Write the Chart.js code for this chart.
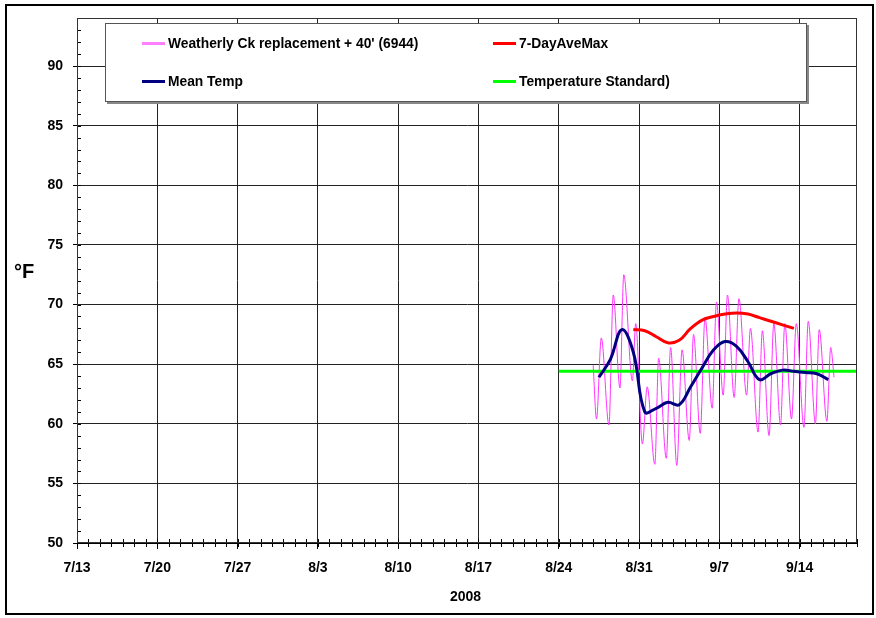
<!DOCTYPE html>
<html>
<head>
<meta charset="utf-8">
<script src="https://cdn.jsdelivr.net/npm/chart.js@4.4.0/dist/chart.umd.min.js"></script>
<style>
  html, body { margin: 0; padding: 0; background: #fff; }
  #wrap { position: relative; width: 876px; height: 618px; font-family: "Liberation Sans", Arial, sans-serif; color: #000; }
  #chart { position: absolute; left: 0; top: 0; }
  #frame { position: absolute; left: 5px; top: 4px; width: 865px; height: 607px; border: 2px solid #000; pointer-events: none; }
  .legend { position: absolute; left: 105px; top: 23px; width: 700px; height: 77px; background: #fff; border: 1px solid #555; box-shadow: 2px 2px 0 #888; }
  .item { position: absolute; font-weight: bold; font-size: 13.8px; line-height: 16px; white-space: nowrap; }
  .swatch { display: inline-block; width: 23px; height: 3px; vertical-align: middle; margin-right: 3px; position: relative; top: -1px; }
  .axis-label { position: absolute; font-weight: bold; }
</style>
</head>
<body>
<div id="wrap">
  <canvas id="chart" width="876" height="618"></canvas>
  <div id="frame"></div>
  <div class="legend">
    <div class="item" style="left:36px; top:12px;"><span class="swatch" style="background:#ff80ff"></span>Weatherly Ck replacement + 40' (6944)</div>
    <div class="item" style="left:36px; top:50px;"><span class="swatch" style="background:#000080"></span>Mean Temp</div>
    <div class="item" style="left:387px; top:12px;"><span class="swatch" style="background:#ff0000"></span>7-DayAveMax</div>
    <div class="item" style="left:387px; top:50px;"><span class="swatch" style="background:#00ff00"></span>Temperature Standard)</div>
  </div>
  <div class="axis-label" style="left:14px; top:260px; font-size:20px;">°F</div>
  <div class="axis-label" style="left:450px; top:588px; font-size:14px;">2008</div>
</div>
<script>
// x values are "month/day hour:min" in 2008; axis runs 7/13 .. 9/19
const axisStart = "7/13";
const axisEnd = "9/19";
const xTickLabels = ["7/13", "7/20", "7/27", "8/3", "8/10", "8/17", "8/24", "8/31", "9/7", "9/14"];
const yTickValues = [50, 55, 60, 65, 70, 75, 80, 85, 90];
const yMin = 50;
const yMax = 94;

// hourly logger, read at each daily low / high
const weatherlyTimes = [
  "8/27 00:00", "8/27 07:00", "8/27 17:00", "8/28 09:00", "8/28 18:00",
  "8/29 08:00", "8/29 16:00", "8/30 10:00", "8/30 17:00", "8/31 07:00",
  "8/31 17:00", "9/1 09:00", "9/1 17:00", "9/2 09:00", "9/2 18:00",
  "9/3 07:00", "9/3 18:00", "9/4 09:00", "9/4 18:00", "9/5 08:00",
  "9/5 18:00", "9/6 09:00", "9/6 18:00", "9/7 08:00", "9/7 17:00",
  "9/8 07:00", "9/8 17:00", "9/9 09:00", "9/9 17:00", "9/10 09:00",
  "9/10 18:00", "9/11 08:00", "9/11 18:00", "9/12 08:00", "9/12 17:00",
  "9/13 07:00", "9/13 17:00", "9/14 09:00", "9/14 18:00", "9/15 09:00",
  "9/15 17:00", "9/16 09:00", "9/16 17:00", "9/17 00:00"
];
const weatherlyTemps = [
  64.9, 60.4, 67.2, 59.9, 70.8,
  63.0, 72.5, 63.6, 68.4, 58.3,
  63.1, 56.6, 65.5, 57.1, 66.4,
  56.5, 66.2, 58.6, 67.5, 59.2,
  68.9, 61.3, 70.2, 62.4, 70.8,
  62.2, 70.5, 62.4, 68.0, 59.3,
  67.8, 59.0, 68.4, 59.9, 68.4,
  60.4, 68.4, 59.7, 68.6, 60.0,
  67.9, 60.2, 66.4, 63.9
];

const meanDays = [
  "8/27 12:00", "8/28 12:00", "8/29 12:00", "8/30 12:00", "8/31 12:00",
  "9/1 12:00", "9/2 12:00", "9/3 12:00", "9/4 12:00", "9/5 12:00",
  "9/6 12:00", "9/7 12:00", "9/8 12:00", "9/9 12:00", "9/10 12:00",
  "9/11 12:00", "9/12 12:00", "9/13 12:00", "9/14 12:00", "9/15 12:00",
  "9/16 12:00"
];
const meanTemps = [
  63.9, 65.4, 67.9, 66.0, 61.0,
  61.3, 61.8, 61.6, 63.1, 64.7,
  66.2, 66.9, 66.5, 65.2, 63.7,
  64.2, 64.5, 64.4, 64.3, 64.2,
  63.7
];

const aveMaxDays = [
  "8/30 12:00", "8/31 12:00", "9/1 12:00", "9/2 12:00", "9/3 12:00",
  "9/4 12:00", "9/5 12:00", "9/6 12:00", "9/7 12:00", "9/8 12:00",
  "9/9 12:00", "9/10 12:00", "9/11 12:00", "9/12 12:00", "9/13 12:00"
];
const aveMaxTemps = [
  67.9, 67.8, 67.3, 66.8, 67.0,
  68.0, 68.7, 69.0, 69.2, 69.3,
  69.2, 68.9, 68.6, 68.3, 68.0
];

const standardDays = ["8/24 00:00", "9/19 00:00"];
const standardTemps = [64.4, 64.4];

// days since 7/13/2008
function toDay(label) {
  const [md, hm] = label.split(" ");
  const [m, d] = md.split("/").map(Number);
  const h = hm ? Number(hm.split(":")[0]) : 0;
  return (Date.UTC(2008, m - 1, d, h) - Date.UTC(2008, 6, 13)) / 86400000;
}

function dayLabel(v) {
  const dt = new Date(Date.UTC(2008, 6, 13) + v * 86400000);
  return (dt.getUTCMonth() + 1) + "/" + dt.getUTCDate();
}

function toPoints(times, values) {
  return times.map((t, i) => ({ x: toDay(t), y: values[i] }));
}

const tickFont = { family: "'Liberation Sans', Arial, sans-serif", size: 14, weight: "bold" };

const minorTicks = {
  id: "minorTicks",
  afterDraw(chart) {
    const { ctx, chartArea: a, scales: { x, y } } = chart;
    ctx.save();
    ctx.strokeStyle = "#000";
    ctx.lineWidth = 1;
    ctx.beginPath();
    for (let d = 0; d <= toDay(axisEnd); d++) {
      const px = Math.round(x.getPixelForValue(d)) + 0.5;
      ctx.moveTo(px, a.bottom - 4);
      ctx.lineTo(px, a.bottom + 4);
    }
    for (let v = yMin; v <= yMax; v++) {
      const py = Math.round(y.getPixelForValue(v)) + 0.5;
      ctx.moveTo(a.left, py);
      ctx.lineTo(a.left + 4, py);
    }
    ctx.stroke();
    ctx.strokeStyle = "#333";
    ctx.strokeRect(Math.round(a.left) + 0.5, Math.round(a.top) + 0.5, Math.round(a.width) - 1, Math.round(a.height) - 1);
    ctx.restore();
  }
};

new Chart(document.getElementById("chart"), {
  type: "line",
  data: {
    datasets: [
      {
        label: "Weatherly Ck replacement + 40' (6944)",
        data: toPoints(weatherlyTimes, weatherlyTemps),
        borderColor: "#ff33ff",
        borderWidth: 1,
        pointRadius: 0,
        cubicInterpolationMode: "monotone",
        order: 4
      },
      {
        label: "Temperature Standard)",
        data: toPoints(standardDays, standardTemps),
        borderColor: "#00ff00",
        borderWidth: 3,
        pointRadius: 0,
        order: 3
      },
      {
        label: "7-DayAveMax",
        data: toPoints(aveMaxDays, aveMaxTemps),
        borderColor: "#ff0000",
        borderWidth: 3,
        pointRadius: 0,
        tension: 0.4,
        order: 2
      },
      {
        label: "Mean Temp",
        data: toPoints(meanDays, meanTemps),
        borderColor: "#000080",
        borderWidth: 3,
        pointRadius: 0,
        tension: 0.4,
        order: 1
      }
    ]
  },
  options: {
    responsive: false,
    animation: false,
    layout: { padding: { top: 17, right: 19, left: 0, bottom: 0 } },
    plugins: {
      legend: { display: false },
      tooltip: { enabled: false }
    },
    scales: {
      x: {
        type: "linear",
        min: toDay(axisStart),
        max: toDay(axisEnd),
        afterBuildTicks: (s) => { s.ticks = xTickLabels.map((l) => ({ value: toDay(l) })); },
        afterFit: (s) => { s.height = 75; },
        grid: { color: "#222", tickColor: "#000", tickLength: 6 },
        border: { color: "#000" },
        ticks: { callback: (v) => dayLabel(v), font: tickFont, color: "#000", padding: 11, maxRotation: 0, autoSkip: false }
      },
      y: {
        min: yMin,
        max: yMax,
        afterBuildTicks: (s) => { s.ticks = yTickValues.map((v) => ({ value: v })); },
        afterFit: (s) => { s.width = 77; },
        grid: { color: "#222", tickColor: "#000", tickLength: 4 },
        border: { color: "#000" },
        ticks: { font: tickFont, color: "#000", padding: 10 }
      }
    }
  },
  plugins: [minorTicks]
});
</script>
</body>
</html>
